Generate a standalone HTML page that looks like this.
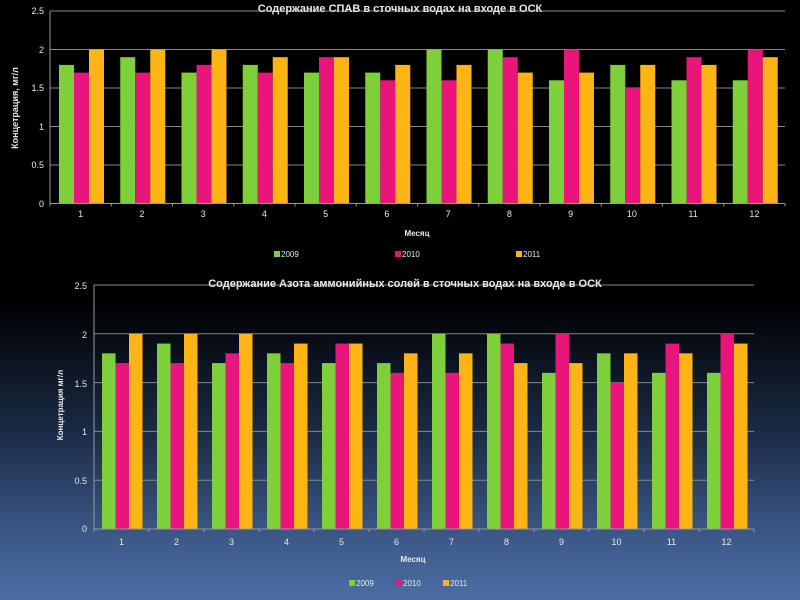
<!DOCTYPE html>
<html><head><meta charset="utf-8"><style>
html,body{margin:0;padding:0;width:800px;height:600px;overflow:hidden}
body{background:linear-gradient(to bottom,#000 0px,#000 300px,#1a2a44 430px,#3a5684 530px,#4c6ea4 600px)}
svg{position:absolute;left:0;top:0}
text{font-family:"Liberation Sans",sans-serif;fill:#e8e8e8}
</style></head><body>
<svg id="s" width="800" height="600" xmlns="http://www.w3.org/2000/svg">
<g id="g"></g>
<!-- chart 1 text -->
<text x="400" y="12" font-size="11" font-weight="bold" text-anchor="middle" fill="#fff">Содержание СПАВ в сточных водах на входе в ОСК</text>
<g font-size="9" text-anchor="end">
<text x="44" y="14">2.5</text><text x="44" y="53">2</text><text x="44" y="91">1.5</text><text x="44" y="130">1</text><text x="44" y="168">0.5</text><text x="44" y="207">0</text>
</g>
<g font-size="9" text-anchor="middle">
<text x="80.6" y="217">1</text><text x="141.9" y="217">2</text><text x="203.1" y="217">3</text><text x="264.4" y="217">4</text><text x="325.6" y="217">5</text><text x="386.9" y="217">6</text><text x="448.1" y="217">7</text><text x="509.4" y="217">8</text><text x="570.6" y="217">9</text><text x="631.9" y="217">10</text><text x="693.1" y="217">11</text><text x="754.4" y="217">12</text>
</g>
<text x="417" y="236" font-size="8" font-weight="bold" text-anchor="middle">Месяц</text>
<text transform="translate(18,108) rotate(-90)" font-size="9" font-weight="bold" text-anchor="middle">Концетрация, мг/л</text>
<rect x="274" y="251" width="6" height="6" fill="#7ed03a"/><text x="281" y="257" font-size="8">2009</text>
<rect x="395" y="251" width="6" height="6" fill="#e8167a"/><text x="402" y="257" font-size="8">2010</text>
<rect x="516" y="251" width="6" height="6" fill="#fdb515"/><text x="523" y="257" font-size="8">2011</text>
<!-- chart 2 text -->
<text x="405" y="287" font-size="11" font-weight="bold" text-anchor="middle" fill="#fff">Содержание Азота аммонийных солей в сточных водах на входе в ОСК</text>
<g font-size="9" text-anchor="end" fill="#ddd">
<text x="87" y="289">2.5</text><text x="87" y="338">2</text><text x="87" y="387">1.5</text><text x="87" y="435">1</text><text x="87" y="484">0.5</text><text x="87" y="532">0</text>
</g>
<g font-size="9" text-anchor="middle">
<text x="121.5" y="545">1</text><text x="176.5" y="545">2</text><text x="231.5" y="545">3</text><text x="286.5" y="545">4</text><text x="341.5" y="545">5</text><text x="396.5" y="545">6</text><text x="451.5" y="545">7</text><text x="506.5" y="545">8</text><text x="561.5" y="545">9</text><text x="616.5" y="545">10</text><text x="671.5" y="545">11</text><text x="726.5" y="545">12</text>
</g>
<text x="413" y="562" font-size="8" font-weight="bold" text-anchor="middle">Месяц</text>
<text transform="translate(63,405) rotate(-90)" font-size="8" font-weight="bold" text-anchor="middle">Концетрация мг/л</text>
<rect x="349" y="580" width="6" height="6" fill="#7ed03a"/><text x="356" y="586" font-size="8">2009</text>
<rect x="396" y="580" width="6" height="6" fill="#e8167a"/><text x="403" y="586" font-size="8">2010</text>
<rect x="443" y="580" width="6" height="6" fill="#fdb515"/><text x="450" y="586" font-size="8">2011</text>
</svg>
<script>
var d=[[1.8,1.9,1.7,1.8,1.7,1.7,2.0,2.0,1.6,1.8,1.6,1.6],[1.7,1.7,1.8,1.7,1.9,1.6,1.6,1.9,2.0,1.5,1.9,2.0],[2.0,2.0,2.0,1.9,1.9,1.8,1.8,1.7,1.7,1.8,1.8,1.9]];
var c=["#7ed03a","#e8167a","#fdb515"];
var g=document.getElementById('g'),h='';
function chart(x0,y0,ytop,cw,off,bw){
 var ph=y0-ytop;
 for(var k=1;k<=5;k++){var y=y0-ph*k/5;h+='<line x1="'+x0+'" x2="'+(x0+cw*12)+'" y1="'+y+'" y2="'+y+'" stroke="#888" stroke-width="1"/>';}
 for(var i=0;i<12;i++)for(var s=0;s<3;s++){var v=d[s][i],bh=ph*v/2.5;h+='<rect x="'+(x0+cw*i+off+bw*s)+'" y="'+(y0-bh)+'" width="'+bw+'" height="'+bh+'" fill="'+c[s]+'"/>';}
 h+='<line x1="'+x0+'" x2="'+x0+'" y1="'+ytop+'" y2="'+y0+'" stroke="#999"/>';
 h+='<line x1="'+x0+'" x2="'+(x0+cw*12)+'" y1="'+y0+'" y2="'+y0+'" stroke="#999"/>';
 for(var i=0;i<=12;i++)h+='<line x1="'+(x0+cw*i)+'" x2="'+(x0+cw*i)+'" y1="'+y0+'" y2="'+(y0+3)+'" stroke="#999"/>';
}
chart(50,203.5,11,61.25,9,15);
chart(94,529,285,55,8,13.5);
g.innerHTML=h;
</script>
</body></html>
